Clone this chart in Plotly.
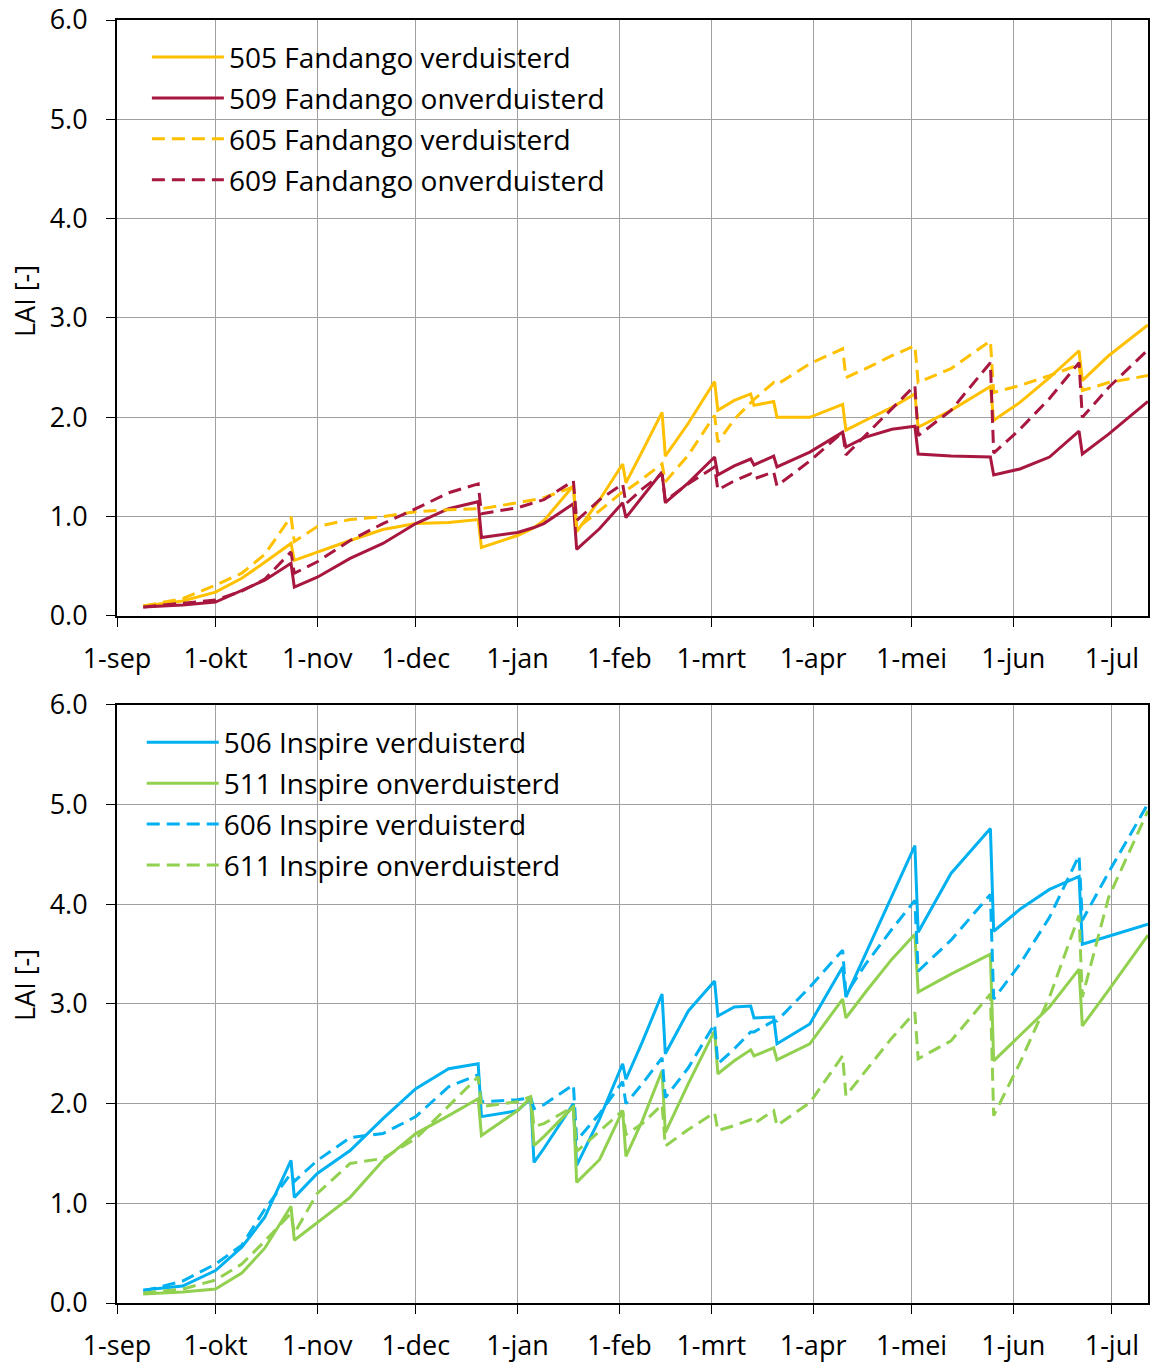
import plotly.graph_objects as go
from plotly.subplots import make_subplots

# Measurement dates (shared by all series); a date pair one day apart marks a leaf-picking drop
dates = [
    "2018-09-09", "2018-09-21", "2018-10-01", "2018-10-09", "2018-10-16", "2018-10-24", "2018-10-25",
    "2018-11-01", "2018-11-11", "2018-11-21", "2018-12-01", "2018-12-11", "2018-12-20", "2018-12-21",
    "2019-01-01", "2019-01-05", "2019-01-06", "2019-01-09", "2019-01-18", "2019-01-19", "2019-01-26",
    "2019-02-02", "2019-02-03", "2019-02-08", "2019-02-14", "2019-02-15", "2019-02-22", "2019-03-02",
    "2019-03-03", "2019-03-08", "2019-03-13", "2019-03-14", "2019-03-20", "2019-03-21", "2019-03-31",
    "2019-04-10", "2019-04-11", "2019-04-17", "2019-04-25", "2019-05-02", "2019-05-03", "2019-05-13",
    "2019-05-25", "2019-05-26", "2019-06-03", "2019-06-12", "2019-06-21", "2019-06-22", "2019-06-30",
    "2019-07-12",
]

# Fandango
lai_505 = [0.10, 0.15, 0.24, 0.38, 0.54, 0.73, 0.56, 0.645, 0.76, 0.87, 0.93, 0.94, 0.97, 0.69,
           0.81, 0.87, 0.89, 0.96, 1.31, 0.85, 1.17, 1.53, 1.34, 1.66, 2.05, 1.61, 1.94, 2.36,
           2.07, 2.17, 2.235, 2.12, 2.16, 2.00, 2.00, 2.13, 1.87, 1.97, 2.10, 2.235, 1.90, 2.07,
           2.31, 1.97, 2.15, 2.40, 2.67, 2.37, 2.62, 2.93]
lai_509 = [0.09, 0.11, 0.14, 0.26, 0.36, 0.53, 0.29, 0.39, 0.58, 0.73, 0.93, 1.08, 1.15, 0.79,
           0.84, 0.88, 0.89, 0.93, 1.13, 0.67, 0.88, 1.14, 0.99, 1.20, 1.45, 1.14, 1.34, 1.60,
           1.42, 1.51, 1.58, 1.52, 1.61, 1.50, 1.65, 1.85, 1.70, 1.80, 1.88, 1.91, 1.63, 1.61,
           1.60, 1.42, 1.48, 1.60, 1.86, 1.63, 1.83, 2.16]
lai_605 = [0.10, 0.175, 0.31, 0.43, 0.62, 1.00, 0.75, 0.90, 0.97, 1.00, 1.05, 1.07, 1.08, 1.08,
           1.14, 1.16, 1.17, 1.19, 1.30, 0.88, 1.06, 1.25, 1.26, 1.38, 1.53, 1.35, 1.62, 2.02,
           1.75, 1.98, 2.15, 2.18, 2.35, 2.33, 2.54, 2.69, 2.40, 2.49, 2.62, 2.72, 2.35, 2.49,
           2.77, 2.25, 2.32, 2.42, 2.53, 2.27, 2.35, 2.42]
lai_609 = [0.09, 0.13, 0.16, 0.25, 0.37, 0.645, 0.43, 0.545, 0.76, 0.93, 1.08, 1.24, 1.33, 1.03,
           1.09, 1.13, 1.14, 1.17, 1.36, 0.96, 1.17, 1.33, 1.13, 1.28, 1.43, 1.16, 1.33, 1.50,
           1.27, 1.36, 1.43, 1.38, 1.45, 1.31, 1.56, 1.85, 1.62, 1.82, 2.09, 2.32, 1.815, 2.07,
           2.55, 1.64, 1.88, 2.19, 2.55, 2.00, 2.30, 2.68]

# Inspire
lai_506 = [0.13, 0.17, 0.325, 0.56, 0.86, 1.43, 1.06, 1.30, 1.53, 1.85, 2.15, 2.35, 2.40, 1.87,
           1.93, 2.05, 1.41, 1.55, 2.00, 1.38, 1.85, 2.40, 2.245, 2.62, 3.10, 2.50, 2.93, 3.23,
           2.88, 2.97, 2.98, 2.86, 2.87, 2.60, 2.80, 3.37, 3.07, 3.50, 4.08, 4.59, 3.72, 4.31,
           4.76, 3.73, 3.95, 4.15, 4.28, 3.60, 3.68, 3.80]
lai_511 = [0.09, 0.11, 0.14, 0.30, 0.55, 0.97, 0.63, 0.81, 1.06, 1.43, 1.70, 1.88, 2.05, 1.68,
           1.93, 2.06, 1.58, 1.67, 1.97, 1.21, 1.44, 1.93, 1.47, 1.83, 2.33, 1.71, 2.20, 2.73,
           2.30, 2.43, 2.54, 2.48, 2.56, 2.44, 2.60, 3.05, 2.86, 3.12, 3.45, 3.70, 3.12, 3.30,
           3.50, 2.43, 2.68, 2.97, 3.35, 2.78, 3.14, 3.69]
lai_606 = [0.12, 0.22, 0.39, 0.58, 0.94, 1.30, 1.22, 1.43, 1.66, 1.70, 1.87, 2.17, 2.29, 2.02,
           2.04, 2.06, 1.95, 1.99, 2.19, 1.63, 1.90, 2.22, 2.00, 2.20, 2.46, 2.06, 2.36, 2.80,
           2.40, 2.55, 2.72, 2.72, 2.83, 2.83, 3.17, 3.54, 3.10, 3.40, 3.75, 4.04, 3.33, 3.64,
           4.10, 3.05, 3.40, 3.87, 4.49, 3.84, 4.32, 5.01]
lai_611 = [0.10, 0.14, 0.23, 0.39, 0.62, 0.90, 0.70, 1.10, 1.40, 1.45, 1.65, 1.98, 2.27, 1.97,
           2.02, 2.07, 1.77, 1.80, 1.97, 1.52, 1.73, 1.93, 1.69, 1.80, 1.99, 1.575, 1.74, 1.91,
           1.73, 1.78, 1.84, 1.80, 1.93, 1.78, 2.01, 2.48, 2.08, 2.33, 2.66, 2.915, 2.45, 2.63,
           3.10, 1.88, 2.41, 3.07, 3.89, 3.07, 4.07, 4.94]

month_ticks = ["2018-09-01", "2018-10-01", "2018-11-01", "2018-12-01", "2019-01-01", "2019-02-01",
               "2019-03-01", "2019-04-01", "2019-05-01", "2019-06-01", "2019-07-01"]
month_labels = ["1-sep", "1-okt", "1-nov", "1-dec", "1-jan", "1-feb", "1-mrt", "1-apr", "1-mei",
                "1-jun", "1-jul"]
y_ticks = [0, 1, 2, 3, 4, 5, 6]
y_labels = ["0.0", "1.0", "2.0", "3.0", "4.0", "5.0", "6.0"]

GOLD = "#FFC000"
CRIMSON = "#A8173F"
BLUE = "#00B0F0"
GREEN = "#92D050"
DASH = "13px,7px"
FONT = "Open Sans"
AXIS_SIZE = 27
LEGEND_SIZE = 28

panels = [
    (1, "legend", [
        ("505 Fandango verduisterd", lai_505, GOLD, "solid"),
        ("509 Fandango onverduisterd", lai_509, CRIMSON, "solid"),
        ("605 Fandango verduisterd", lai_605, GOLD, DASH),
        ("609 Fandango onverduisterd", lai_609, CRIMSON, DASH),
    ]),
    (2, "legend2", [
        ("506 Inspire verduisterd", lai_506, BLUE, "solid"),
        ("511 Inspire onverduisterd", lai_511, GREEN, "solid"),
        ("606 Inspire verduisterd", lai_606, BLUE, DASH),
        ("611 Inspire onverduisterd", lai_611, GREEN, DASH),
    ]),
]

fig = make_subplots(rows=2, cols=1)

for row, legend_id, series in panels:
    for i, (name, values, color, dash) in enumerate(series):
        fig.add_trace(
            go.Scatter(
                x=dates, y=values, name=name, mode="lines",
                line=dict(color=color, width=3, dash=dash),
                legend=legend_id, legendgroup=f"{legend_id}_{i}",
            ),
            row=row, col=1,
        )

axis_common = dict(
    showline=True, linecolor="black", linewidth=2, mirror=True,
    showgrid=True, gridcolor="#A0A0A0", gridwidth=1,
    ticks="outside", ticklen=9, tickcolor="black", tickwidth=1,
    zeroline=False, automargin=False, ticklabeloverflow="allow",
    tickfont=dict(family=FONT, size=AXIS_SIZE, color="black"),
)

for row in (1, 2):
    fig.update_xaxes(
        type="date", range=["2018-09-01", "2019-07-12"],
        tickmode="array", tickvals=month_ticks, ticktext=month_labels,
        ticklabelstandoff=9,
        row=row, col=1, **axis_common,
    )
    fig.update_yaxes(
        range=[0, 6], tickmode="array", tickvals=y_ticks, ticktext=y_labels,
        ticklabelstandoff=13,
        row=row, col=1, **axis_common,
    )

fig.update_layout(yaxis=dict(domain=[0.5355, 1.0]), yaxis2=dict(domain=[0.0, 0.4661]))

legend_common = dict(
    xref="paper", yref="paper", xanchor="left", yanchor="top",
    bgcolor="rgba(0,0,0,0)", borderwidth=0,
    font=dict(family=FONT, size=LEGEND_SIZE, color="black"),
    itemwidth=72, tracegroupgap=1.5, traceorder="grouped",
)

fig.update_layout(
    width=1152, height=1362,
    margin=dict(l=117, r=4, t=20, b=59),
    paper_bgcolor="white", plot_bgcolor="white",
    showlegend=True,
    legend=dict(x=0.029, y=0.9904, **legend_common),
    legend2=dict(x=0.024, y=0.4563, **legend_common),
    annotations=[
        dict(text="LAI [-]", xref="paper", yref="paper", x=-0.0892, y=0.781,
             xanchor="center", yanchor="middle", textangle=-90, showarrow=False,
             font=dict(family=FONT, size=AXIS_SIZE, color="black")),
        dict(text="LAI [-]", xref="paper", yref="paper", x=-0.0892, y=0.2479,
             xanchor="center", yanchor="middle", textangle=-90, showarrow=False,
             font=dict(family=FONT, size=AXIS_SIZE, color="black")),
    ],
)

fig.write_html("out.html")
